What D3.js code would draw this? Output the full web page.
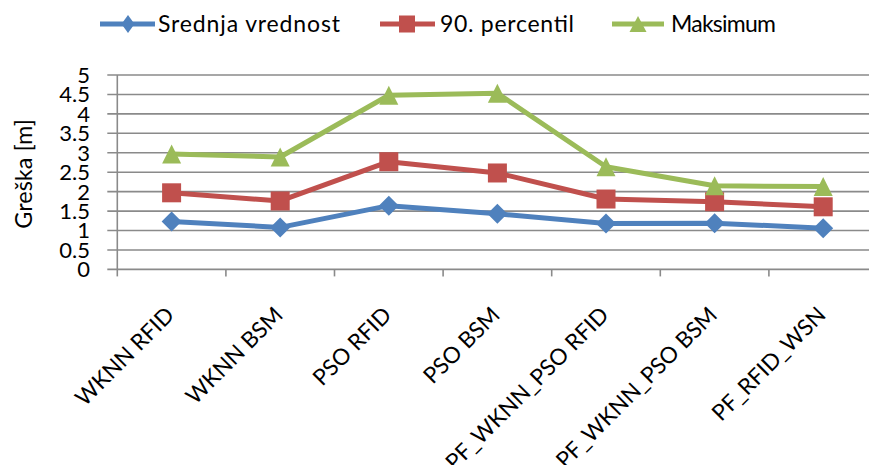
<!DOCTYPE html>
<html><head><meta charset="utf-8">
<script src="https://cdn.jsdelivr.net/npm/d3@7"></script>
<style>body{margin:0;background:#fff}svg{display:block}</style>
</head><body><svg id="c" width="869" height="465"></svg>
<script>
const categories = ["WKNN RFID","WKNN BSM","PSO RFID","PSO BSM","PF_WKNN_PSO RFID","PF_WKNN_PSO BSM","PF_RFID_WSN"];
const srednja = [1.23,1.08,1.64,1.43,1.18,1.19,1.06];
const percentil90 = [1.97,1.76,2.77,2.48,1.81,1.74,1.61];
const maksimum = [2.97,2.89,4.48,4.53,2.64,2.15,2.13];
const yTicks = [0,0.5,1,1.5,2,2.5,3,3.5,4,4.5,5];
const seriesNames = ["Srednja vrednost","90. percentil","Maksimum"];
const colors = ["#4F81BD","#C0504D","#9BBB59"];
const FONT = "Lato, 'Open Sans', sans-serif";

const svg = d3.select("#c");
const left = 117.3, bw = 108.6, y0 = 269.4, y5 = 75;
const x = d3.scaleBand().domain(categories).range([left, left + bw*categories.length]).padding(0);
const y = d3.scaleLinear().domain([0,5]).range([y0, y5]);
const grid = "#8a8a8a";

// gridlines
svg.append("g").selectAll("line").data(yTicks).join("line")
  .attr("x1", left-10).attr("x2", 869)
  .attr("y1", d=>y(d)).attr("y2", d=>y(d))
  .attr("stroke", grid).attr("stroke-width", 1.6);

// y axis line
svg.append("line").attr("x1", left).attr("x2", left).attr("y1", y5).attr("y2", y0+7)
  .attr("stroke", grid).attr("stroke-width", 1.6);
// x ticks
const edges = categories.map(c=>x(c)).concat([left + bw*categories.length]);
svg.append("g").selectAll("line").data(edges.slice(1)).join("line")
  .attr("x1", d=>d).attr("x2", d=>d).attr("y1", y0).attr("y2", y0+7)
  .attr("stroke", grid).attr("stroke-width", 1.6);

// y tick labels
svg.append("g").selectAll("text").data(yTicks).join("text")
  .attr("x", 90).attr("y", d=>y(d)).attr("dy","0.36em")
  .attr("text-anchor","end").attr("font-family",FONT).attr("font-size",22)
  .attr("fill","#000").text(d=>d);

// y title
svg.append("text").attr("transform","translate(32,174) rotate(-90)")
  .attr("text-anchor","middle").attr("font-family",FONT).attr("font-size",23.5)
  .attr("fill","#000").text("Greška [m]");

// x labels
svg.append("g").selectAll("text").data(categories).join("text")
  .attr("transform", d=>`translate(${x(d)+x.bandwidth()/2+4},${y0+47}) rotate(-45)`)
  .attr("text-anchor","end").attr("font-family",FONT).attr("font-size",22.5)
  .attr("fill","#000").text(d=>d);

const allSeries = [srednja, percentil90, maksimum];
const cx = c => x(c) + x.bandwidth()/2;
const line = d3.line().x((d,i)=>cx(categories[i])).y(d=>y(d));

function marker(g, type, color, w, h) {
  if (type===0) g.append("path").attr("d",`M0,${-h/2}L${w/2},0L0,${h/2}L${-w/2},0Z`).attr("fill",color);
  else if (type===1) g.append("rect").attr("x",-w/2).attr("y",-h/2).attr("width",w).attr("height",h).attr("fill",color);
  else g.append("path").attr("d",`M0,${-h/2}L${w/2},${h/2}L${-w/2},${h/2}Z`).attr("fill",color);
}

allSeries.forEach((vals, si) => {
  svg.append("path").datum(vals).attr("d", line).attr("fill","none")
    .attr("stroke", colors[si]).attr("stroke-width", 5).attr("stroke-linejoin","round");
  vals.forEach((v,i) => {
    const g = svg.append("g").attr("transform",`translate(${cx(categories[i])},${y(v)})`);
    if (si===0) marker(g,0,colors[si],20,20);
    else if (si===1) marker(g,1,colors[si],19,19);
    else marker(g,2,colors[si],19,19);
  });
});

// legend
const legendItems = [
  {x1:100, x2:155, mx:128, tx:158, w:182},
  {x1:380, x2:435, mx:407, tx:440, w:134},
  {x1:612, x2:664, mx:638, tx:671, w:105}
];
legendItems.forEach((it, si) => {
  svg.append("line").attr("x1",it.x1).attr("x2",it.x2).attr("y1",24).attr("y2",24)
    .attr("stroke",colors[si]).attr("stroke-width",5);
  const g = svg.append("g").attr("transform",`translate(${it.mx},24)`);
  if (si===0) marker(g,0,colors[si],13,18);
  else if (si===1) marker(g,1,colors[si],16,17);
  else marker(g,2,colors[si],17,16);
  svg.append("text").attr("x",it.tx).attr("y",32).attr("font-family",FONT).attr("font-size",23)
    .attr("textLength", it.w).attr("lengthAdjust","spacing")
    .attr("fill","#000").text(seriesNames[si]);
});
</script></body></html>
